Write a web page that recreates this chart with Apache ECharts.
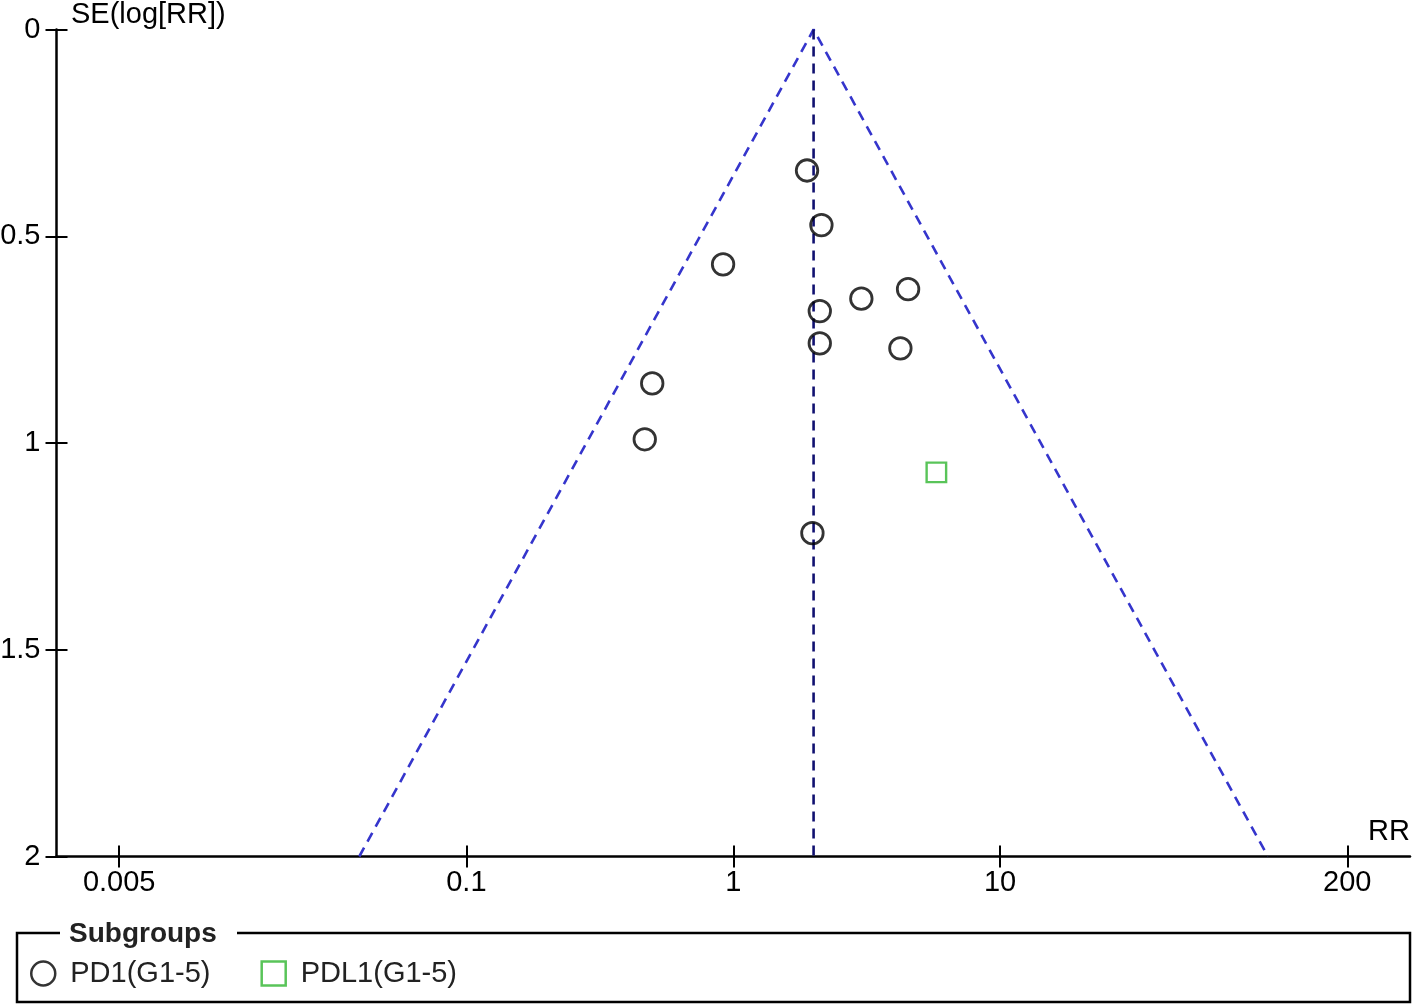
<!DOCTYPE html>
<html>
<head>
<meta charset="utf-8">
<script src="https://cdn.jsdelivr.net/npm/echarts@6/dist/echarts.min.js"></script>
<style>
html,body{margin:0;padding:0;background:#fff;}
#chart{width:1417px;height:1004px;}
</style>
</head>
<body>
<div id="chart"></div>
<script>
// ---- data ----
const pd1RR = [1.89, 2.14, 0.916, 4.52, 3.02, 2.11, 2.11, 4.23, 0.497, 0.466, 1.98];
const pd1SE = [0.341, 0.473, 0.568, 0.628, 0.651, 0.681, 0.759, 0.771, 0.856, 0.991, 1.218];
const pdl1RR = [5.77];
const pdl1SE = [1.071];
const pooledRR = 2.0;
const seMax = 2;
const zCrit = 1.96;
const xTickValues = [0.005, 0.1, 1, 10, 200];
const xTickLabels = ['0.005', '0.1', '1', '10', '200'];
const yTickValues = [0, 0.5, 1, 1.5, 2];
const seriesNames = ['PD1(G1-5)', 'PDL1(G1-5)'];

const FONT = "'Liberation Sans', Arial, sans-serif";
const TXT = '#000';
const AX = '#000';
const xMinLog = -2.536, xMaxLog = 2.536;

const xTickLogs = xTickValues.map(v => Math.log10(v));
function xLabel(v) {
  for (let i = 0; i < xTickLogs.length; i++) if (Math.abs(xTickLogs[i] - v) < 1e-6) return xTickLabels[i];
  return '';
}
const pd1Data = pd1RR.map((r, i) => [Math.log10(r), pd1SE[i]]);
const pdl1Data = pdl1RR.map((r, i) => [Math.log10(r), pdl1SE[i]]);
const c0 = Math.log10(pooledRR);
const half = zCrit * seMax / Math.LN10;
const funnelData = [[c0 - half, seMax], [c0, 0], [c0 + half, seMax]];
const centreData = [[c0, 0], [c0, seMax]];

const chart = echarts.init(document.getElementById('chart'), null, {renderer: 'canvas'});
const xBase = {
  type: 'value', min: xMinLog, max: xMaxLog, gridIndex: 0, position: 'bottom',
  splitLine: {show: false},
  axisLine: {show: true, onZero: false, lineStyle: {color: AX, width: 2.5}},
};
const yBase = {
  type: 'value', min: 0, max: 2, interval: 0.5, inverse: true, gridIndex: 0, position: 'left',
  splitLine: {show: false},
  axisLine: {show: true, onZero: false, lineStyle: {color: AX, width: 2.5}},
};
chart.setOption({
  animation: false,
  backgroundColor: '#fff',
  grid: {left: 56.5, right: 7, top: 29.5, bottom: 147.5, containLabel: false, outerBoundsMode: 'none'},
  xAxis: [
    Object.assign({}, xBase, {
      axisTick: {show: true, inside: false, length: 11, customValues: xTickLogs, lineStyle: {color: AX, width: 2}},
      axisLabel: {show: true, customValues: xTickLogs, formatter: xLabel, margin: 12,
        color: TXT, fontFamily: FONT, fontSize: 29}
    }),
    Object.assign({}, xBase, {
      axisLine: {show: false, onZero: false},
      axisTick: {show: true, inside: true, length: 11, customValues: xTickLogs, lineStyle: {color: AX, width: 2}},
      axisLabel: {show: false}
    })
  ],
  yAxis: [
    Object.assign({}, yBase, {
      axisTick: {show: true, inside: false, length: 11, lineStyle: {color: AX, width: 2}},
      axisLabel: {show: true, margin: 16, color: TXT, fontFamily: FONT, fontSize: 29,
        formatter: v => String(v)}
    }),
    Object.assign({}, yBase, {
      axisLine: {show: false, onZero: false},
      axisTick: {show: true, inside: true, length: 11, lineStyle: {color: AX, width: 2}},
      axisLabel: {show: false}
    })
  ],
  legend: {
    left: 25, top: 954, orient: 'horizontal',
    itemWidth: 24, itemHeight: 24, itemGap: 50,
    data: [
      {name: seriesNames[0], icon: 'circle', itemStyle: {color: 'rgba(0,0,0,0)', borderColor: '#000', borderWidth: 2.5}},
      {name: seriesNames[1], icon: 'rect', itemStyle: {color: 'rgba(0,0,0,0)', borderColor: '#2fb52f', borderWidth: 2.5}}
    ],
    textStyle: {color: '#222', fontFamily: FONT, fontSize: 29, padding: [4, 0, 0, 10]}
  },
  graphic: [
    {type: 'text', left: 71, top: 0, style: {text: 'SE(log[RR])', fill: TXT, font: '29px ' + FONT}},
    {type: 'text', right: 7, top: 817, style: {text: 'RR', fill: TXT, font: '29px ' + FONT}},
    {type: 'polyline', shape: {points: [[60, 933], [17, 933], [17, 1002], [1410, 1002], [1410, 933], [237, 933]]},
      style: {stroke: '#000', lineWidth: 2.5, fill: null}},
    {type: 'text', left: 69, top: 920, style: {text: 'Subgroups', fill: '#222', font: 'bold 28px ' + FONT}}
  ],
  series: [
    {type: 'line', name: 'funnel', data: funnelData, xAxisIndex: 0, yAxisIndex: 0, symbol: 'none',
      lineStyle: {color: '#3535cc', width: 2.6, type: [10, 7]}, z: 1, silent: true},
    {type: 'line', name: 'pooled', data: centreData, xAxisIndex: 0, yAxisIndex: 0, symbol: 'none',
      lineStyle: {color: '#101070', width: 2.6, type: [10, 7]}, z: 1, silent: true},
    {type: 'scatter', name: seriesNames[0], data: pd1Data, xAxisIndex: 0, yAxisIndex: 0,
      symbol: 'circle', symbolSize: 21.5,
      itemStyle: {color: 'rgba(0,0,0,0)', borderColor: '#000', borderWidth: 2.8}, z: 3},
    {type: 'scatter', name: seriesNames[1], data: pdl1Data, xAxisIndex: 0, yAxisIndex: 0,
      symbol: 'rect', symbolSize: 19.5,
      itemStyle: {color: 'rgba(0,0,0,0)', borderColor: '#2fb52f', borderWidth: 2.4}, z: 3}
  ]
});
</script>
</body>
</html>
